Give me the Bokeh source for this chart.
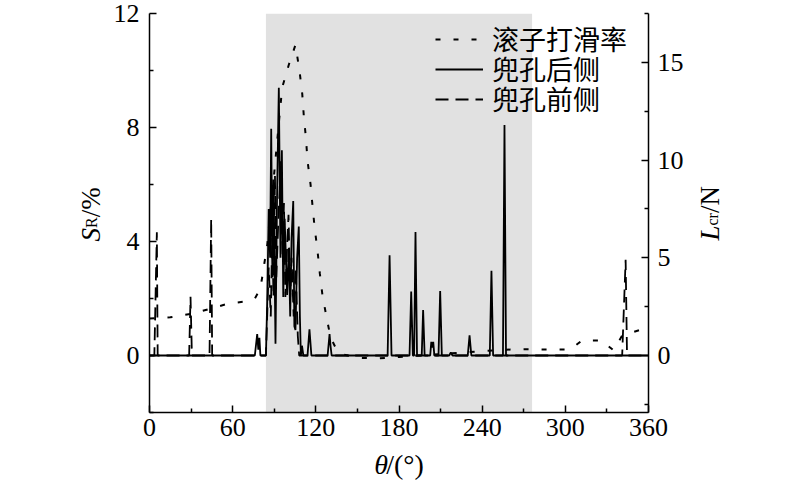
import math
from bokeh.plotting import figure
from bokeh.layouts import row, column
from bokeh.models import Range1d, LinearAxis, FixedTicker, BoxAnnotation, Label, Legend, LegendItem
from bokeh.embed import file_html
from bokeh.resources import INLINE

# ---------------- data ----------------
# roller slip rate S_R (%), left axis
slip_theta = [0, 15, 30, 44, 56, 70, 76, 80, 85, 89.7, 95.7, 100.5, 105.3, 108.2,
              110.2, 111.3, 112.9, 114, 116.2, 117.7, 119.2, 121.2, 122.9, 124.8,
              127.7, 130.6, 134, 137.8, 150, 165, 180, 195, 210, 225, 240, 255,
              270, 285, 300, 306, 312, 326, 334.8, 341, 354, 360]
slip_rate = [1.3, 1.34, 1.46, 1.64, 1.81, 1.9, 2.0, 2.34, 3.9, 6.26, 9.4, 10.2, 10.9, 10.0,
             9.18, 8.42, 7.6, 6.84, 6.0, 5.2, 4.46, 3.68, 2.87, 2.11,
             1.35, 0.64, 0.3, 0.06, -0.08, -0.1, -0.05, 0.0, 0.05, 0.1, 0.15, 0.2,
             0.22, 0.21, 0.21, 0.3, 0.53, 0.53, 0.18, 0.7, 0.9, 0.95]

# pocket rear side force L_cr (N), right axis
rear_theta = [0, 76, 77.7, 78.5, 79.3, 80, 84, 85, 86, 87,
              87.8, 88.7, 89.5, 90.9, 92, 93.3, 94.5, 95.5, 96.5, 97.5,
              99.3, 100.5, 101.5, 102.5, 103.7, 104.5, 105.3, 106.5, 107.7, 108.5,
              109.2, 110, 111, 114, 115.4, 116.8, 128.5, 129.9, 130.6, 131.4,
              171.8, 173.2, 174.6, 187.6, 188.8, 190, 190.9, 191.9, 193, 196.4,
              197.4, 198.5, 202.5, 203.3, 204, 204.7, 205.5, 208.5, 209.7, 210.9,
              216.2, 217.4, 218.6, 229.6, 230.9, 232.2, 245.5, 246.7, 247.9, 255,
              256.1, 257.2, 360]
rear_force = [0, 0, 1.1, 0.3, 0.9, 0, 0, 3.0, 7.5, 5.0,
              11.6, 4.0, 9.0, 0.6, 8.0, 13.7, 5.0, 10.5, 3.0, 7.0,
              3.1, 5.5, 2.0, 6.0, 7.9, 1.5, 1.3, 5.0, 6.6, 2.0,
              0, 0.5, 0, 0, 1.34, 0, 0, 1.1, 0.5, 0,
              0, 5.13, 0, 0, 3.27, 0, 0, 6.32, 0, 0,
              2.33, 0, 0, 0.7, 0.4, 0.7, 0, 0, 3.3, 0,
              0, 0.15, 0, 0, 1.03, 0, 0, 4.33, 0, 0,
              11.8, 0, 0]

# pocket front side force L_cr (N), right axis
front_theta = [0, 3.5, 5.3, 5.9, 28.6, 29.6, 30.6, 43.3, 44.5, 45.2,
               84, 86, 87.5, 88.5, 89.5, 90.5, 91.5, 93, 94.8, 96,
               97, 98, 99.5, 100.3, 101.5, 102.5, 104, 105.5, 107, 108,
               341, 343.5, 344.5, 360]
front_force = [0, 0, 6.3, 0, 0, 3.0, 0, 0, 7.0, 0,
               0, 4.5, 2.0, 6.0, 3.0, 9.2, 4.0, 7.0, 10.0, 5.0,
               7.8, 3.0, 6.0, 7.2, 3.0, 5.0, 2.0, 4.5, 1.0, 0,
               0, 4.9, 0, 0]

x_ticks = [0, 60, 120, 180, 240, 300, 360]
x_minor = [30, 90, 150, 210, 270, 330]
left_ticks = [0, 4, 8, 12]
left_minor = [-2, 2, 6, 10]
right_ticks = [0, 5, 10, 15]
right_minor = [-2.5, 2.5, 7.5, 12.5, 17.5]
shade_region = [84, 276]
legend_labels = ["滚子打滑率", "兜孔后侧", "兜孔前侧"]

# ---------------- layout (page px) ----------------
W, H = 800, 484
FL, FR, FT, FB = 149, 648, 13, 412     # main plot frame edges
MX0, MX1 = 104, 690                    # main figure left/right on the page
MH = 448                               # main figure height
X0, X1 = 0, 360
Y0, Y1 = -2, 12
R1 = 17.5
R0 = Y0 * R1 / Y1
serif = "Liberation Serif"
BS = 9  # shift of label anchor vs. wanted ink baseline


def side_fig(w, h):
    f = figure(width=w, height=h, output_backend="svg", toolbar_location=None,
               x_range=Range1d(0, w), y_range=Range1d(h, 0),
               x_axis_location=None, y_axis_location=None,
               min_border=0, min_border_left=0, min_border_right=0,
               min_border_top=0, min_border_bottom=0)
    f.outline_line_color = None
    f.background_fill_color = "white"
    f.border_fill_color = "white"
    f.grid.visible = False
    return f


def lab(f, x, y, text, size, italic=False, angle=0.0):
    f.add_layout(Label(x=x, y=y, text=text, angle=angle, text_font=serif,
                       text_font_size=size,
                       text_font_style="italic" if italic else "normal",
                       text_align="left", text_baseline="alphabetic",
                       text_color="black"))


# ---------------- main plot ----------------
p = figure(width=MX1 - MX0, height=MH, output_backend="svg", toolbar_location=None,
           x_range=Range1d(X0, X1), y_range=Range1d(Y0, Y1),
           min_border_left=FL - MX0, min_border_right=MX1 - FR,
           min_border_top=FT, min_border_bottom=MH - FB)
p.outline_line_color = None
p.xgrid.visible = False
p.ygrid.visible = False
p.background_fill_color = "white"
p.border_fill_color = "white"

p.extra_y_ranges = {"r": Range1d(R0, R1)}
raxis = LinearAxis(y_range_name="r")
p.add_layout(raxis, "right")

p.xaxis.ticker = FixedTicker(ticks=x_ticks, minor_ticks=x_minor)
p.yaxis[0].ticker = FixedTicker(ticks=left_ticks, minor_ticks=left_minor)
raxis.ticker = FixedTicker(ticks=right_ticks, minor_ticks=right_minor)

for ax in [p.xaxis[0], p.yaxis[0], raxis]:
    ax.axis_line_color = "black"
    ax.axis_line_width = 1.5
    ax.major_tick_line_color = "black"
    ax.major_tick_line_width = 1.5
    ax.minor_tick_line_color = "black"
    ax.minor_tick_line_width = 1.5
    ax.major_tick_in = 7
    ax.major_tick_out = 0
    ax.minor_tick_in = 4
    ax.minor_tick_out = 0
    ax.major_label_text_font = serif
    ax.major_label_text_font_size = "26px"
    ax.major_label_text_color = "black"
p.xaxis[0].major_label_standoff = 6
p.yaxis[0].major_label_standoff = 10
raxis.major_label_standoff = 9

shade = BoxAnnotation(left=shade_region[0], right=shade_region[1],
                      fill_color="#e1e1e1", fill_alpha=1.0, line_color=None,
                      level="underlay")
p.add_layout(shade)

r_slip = p.line(slip_theta, slip_rate, line_color="black", line_width=2,
                line_dash="5 13")
r_rear = p.line(rear_theta, rear_force, y_range_name="r", line_color="black",
                line_width=1.8)
r_front = p.line(front_theta, front_force, y_range_name="r", line_color="black",
                 line_width=1.8, line_dash="13 7")

# one legend per row, so the row pitch matches the reference
row_centers = [41.7, 71.7, 101.7]  # page px
for lbl, rend, cy in zip(legend_labels, [r_slip, r_rear, r_front], row_centers):
    lg = Legend(items=[LegendItem(label=lbl, renderers=[rend])],
                location=(435 - FL, FB - cy - 16.7), padding=0, margin=0, spacing=0,
                glyph_width=48, glyph_height=20, label_standoff=9,
                label_text_font="Noto Sans CJK SC", label_text_font_size="27px",
                label_text_color="black",
                border_line_color=None, background_fill_alpha=0)
    p.add_layout(lg)

rot = math.pi / 2

# ---------------- left title: S_R/% ----------------
left_f = side_fig(MX0, H)
lab(left_f, 99 - BS, 241, "S", "27px", True, rot)
lab(left_f, 100 - BS, 227.5, "R", "16px", False, rot)
lab(left_f, 99 - BS, 216.8, "/%", "27px", False, rot)

# ---------------- right title: L_cr/N ----------------
right_f = side_fig(W - MX1, H)
lab(right_f, 718 - BS - MX1, 240, "L", "27px", True, rot)
lab(right_f, 721 - BS - MX1, 225, "cr", "16px", False, rot)
lab(right_f, 718 - BS - MX1, 212.6, "/N", "27px", False, rot)

# ---------------- bottom title: θ/(°) ----------------
bottom_f = side_fig(MX1 - MX0, H - MH)
lab(bottom_f, 368 - MX0, 473 - BS - MH, "θ", "28px", True)
lab(bottom_f, 382 - MX0, 473 - BS - MH, "/(°)", "28px", False)

layout = row(left_f, column(p, bottom_f, spacing=0), right_f, spacing=0)
open("out.html", "w").write(file_html(layout, INLINE))
